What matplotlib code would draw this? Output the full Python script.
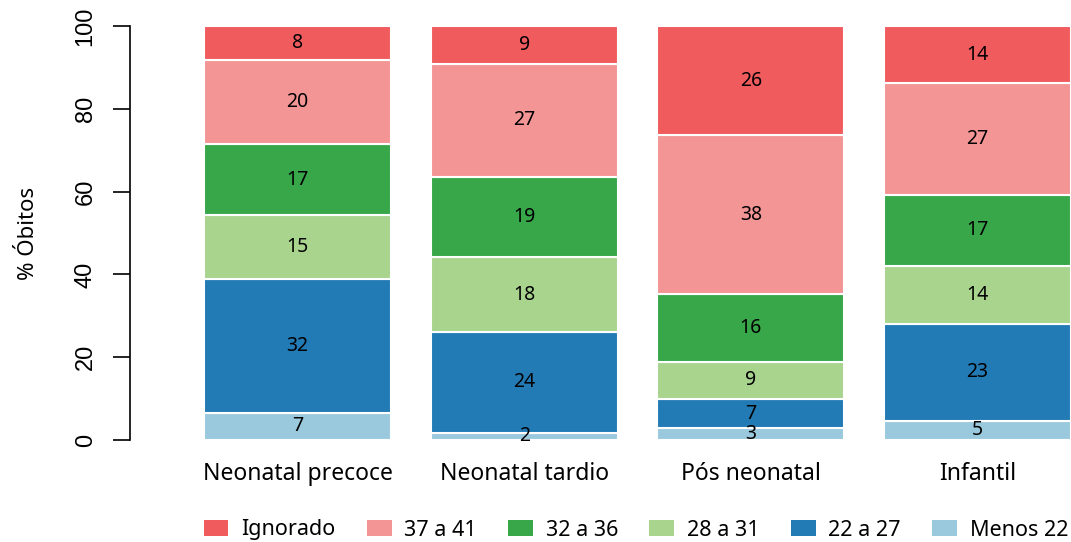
import numpy as np
import matplotlib
matplotlib.use('Agg')
import matplotlib.pyplot as plt
from matplotlib.patches import Patch

# dados (% de obitos por idade gestacional)
categorias = ['Neonatal precoce', 'Neonatal tardio', 'Pós neonatal', 'Infantil']
grupos = ['Menos 22', '22 a 27', '28 a 31', '32 a 36', '37 a 41', 'Ignorado']
menos22 = [6.6, 1.7, 2.8, 4.7]
g22_27 = [32.4, 24.4, 7.2, 23.4]
g28_31 = [15.4, 18.0, 8.9, 14.0]
g32_36 = [17.0, 19.4, 16.3, 17.1]
g37_41 = [20.3, 27.4, 38.4, 27.0]
ignorado = [8.3, 9.1, 26.4, 13.8]
rotulos = [[7, 2, 3, 5],
           [32, 24, 7, 23],
           [15, 18, 9, 14],
           [17, 19, 16, 17],
           [20, 27, 38, 27],
           [8, 9, 26, 14]]
yticks = [0, 20, 40, 60, 80, 100]

cores = ['#9AC9DE', '#237BB6', '#A8D48E', '#37A74A', '#F49595', '#F05B5E']
serie = [menos22, g22_27, g28_31, g32_36, g37_41, ignorado]

txt_font = ['Noto Sans', 'DejaVu Sans']

fig = plt.figure(figsize=(10.71, 5.42), dpi=100)
ax = fig.add_axes([130/1071, (542-440)/542, (1071-130)/1071, (440-26)/542])

x = np.arange(len(categorias))
base = np.zeros(len(categorias))
for vals, cor, rot in zip(serie, cores, rotulos):
    vals = np.array(vals)
    ax.bar(x, vals, bottom=base, width=0.825, color=cor, edgecolor='white', linewidth=1.5)
    for i in range(len(x)):
        ax.text(x[i], base[i] + vals[i]/2, str(rot[i]), ha='center', va='center',
                fontsize=14, family=txt_font, color='black')
    base = base + vals

ax.set_xlim(-0.739, 3.4125)
ax.set_ylim(0, 100)
for s in ['top', 'right', 'bottom']:
    ax.spines[s].set_visible(False)
ax.spines['left'].set_bounds(0, 100)
ax.spines['left'].set_linewidth(1.2)
ax.set_yticks(yticks)
ax.set_yticklabels([str(t) for t in yticks], rotation=90, va='center',
                   family=['Liberation Sans', 'DejaVu Sans'], fontsize=17)
ax.tick_params(axis='y', length=12, width=1.2, pad=12)
ax.set_xticks(x)
ax.set_xticklabels(categorias, family=txt_font, fontsize=16.5)
ax.tick_params(axis='x', length=0, pad=16)
ax.set_ylabel('% Óbitos', family=txt_font, fontsize=16, labelpad=26)

handles = [Patch(facecolor=c, edgecolor='none') for c in cores[::-1]]
fig.legend(handles, grupos[::-1], loc='center', bbox_to_anchor=(636/1071, 1 - 530/542),
           ncol=6, frameon=False, prop={'family': txt_font, 'size': 15.5},
           handlelength=1.15, handleheight=0.7, handletextpad=0.6, columnspacing=1.45)

fig.savefig('out.png', dpi=100)
